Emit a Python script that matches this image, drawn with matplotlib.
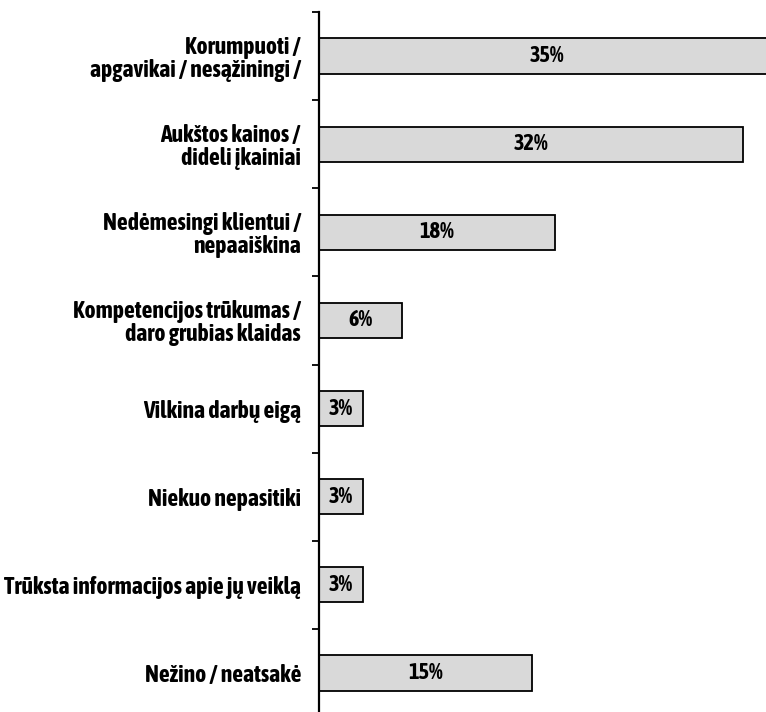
import matplotlib
matplotlib.use("Agg")
import matplotlib.pyplot as plt
import numpy as np

categories = [
    "Korumpuoti /\napgavikai / nesąžiningi /",
    "Aukštos kainos /\ndideli įkainiai",
    "Nedėmesingi klientui /\nnepaaiškina",
    "Kompetencijos trūkumas /\ndaro grubias klaidas",
    "Vilkina darbų eigą",
    "Niekuo nepasitiki",
    "Trūksta informacijos apie jų veiklą",
    "Nežino / neatsakė",
]
# bar lengths as drawn in the picture
values = [34.4, 32.0, 17.8, 6.3, 3.3, 3.3, 3.3, 16.1]
pct_labels = ["35%", "32%", "18%", "6%", "3%", "3%", "3%", "15%"]

plt.rcParams['font.family'] = ['Asap Condensed', 'DejaVu Sans']
plt.rcParams['font.stretch'] = 'condensed'

fig = plt.figure(figsize=(7.66, 7.12), dpi=100)
ax = fig.add_axes([319 / 766, -5 / 712, 1 - 319 / 766, 705 / 712])

y = np.arange(len(categories))
bars = ax.barh(y, values, height=0.4, color="#d9d9d9", edgecolor="black",
               linewidth=1.3)

for b, lab in zip(bars, pct_labels):
    ax.text(b.get_width() / 2, b.get_y() + b.get_height() / 2, lab,
            ha="center", va="center", fontsize=16, fontweight="bold")

ax.set_ylim(len(categories) - 0.5, -0.5)
ax.set_xlim(0, 447 / 13.25)

ax.set_yticks(y)
ax.set_yticklabels(categories, fontsize=17, fontweight="bold", ha="right",
                   multialignment="right", linespacing=1.0)
ax.tick_params(axis="y", which="major", length=0, pad=13)
ax.set_yticks(np.arange(len(categories) + 1) - 0.5, minor=True)
ax.tick_params(axis="y", which="minor", length=5, width=1.3, left=True)

ax.set_xticks([])
for s in ["top", "right", "bottom"]:
    ax.spines[s].set_visible(False)
ax.spines["left"].set_linewidth(1.6)

fig.savefig("out.png", dpi=100)
